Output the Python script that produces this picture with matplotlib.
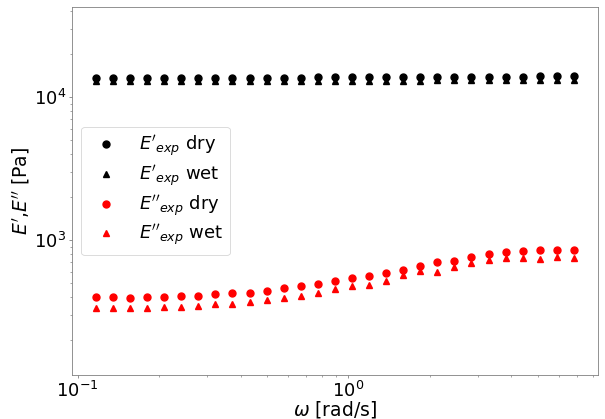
import matplotlib
matplotlib.use("Agg")
import matplotlib.pyplot as plt

# angular frequency [rad/s]
omega = [0.1168, 0.1351, 0.1562, 0.1806, 0.2089, 0.2415, 0.2792, 0.3228, 0.3731, 0.4315,
         0.4989, 0.5768, 0.6669, 0.7711, 0.8916, 1.031, 1.192, 1.378, 1.593, 1.842,
         2.130, 2.463, 2.848, 3.293, 3.807, 4.402, 5.089, 5.885, 6.804]

# storage modulus E' [Pa]
E1_dry = [13700, 13700, 13680, 13700, 13690, 13700, 13700, 13680, 13700, 13700,
          13710, 13700, 13700, 13720, 13720, 13750, 13750, 13760, 13780, 13790,
          13800, 13820, 13830, 13850, 13880, 13920, 13960, 14000, 14050]
E1_wet = [13000, 13000, 12990, 13000, 13000, 13000, 13000, 12990, 13000, 13000,
          13010, 13000, 13000, 13010, 13020, 13030, 13040, 13050, 13060, 13070,
          13080, 13090, 13100, 13110, 13130, 13150, 13170, 13190, 13220]

# loss modulus E'' [Pa]
E2_dry = [399, 399, 397, 399, 399, 406, 410, 419, 428, 428,
          444, 461, 479, 492, 514, 542, 557, 588, 617, 658,
          705, 709, 760, 806, 824, 833, 851, 851, 851]
E2_wet = [338, 338, 336, 338, 342, 342, 349, 355, 360, 368,
          382, 397, 408, 430, 456, 479, 487, 514, 569, 613,
          603, 647, 690, 721, 748, 752, 740, 768, 748]

fig = plt.figure(figsize=(6.05, 4.19), dpi=100)
ax = fig.add_axes([0.119, 0.105, 0.869, 0.878])

ax.plot(omega, E1_dry, 'o', color='black', ms=5, label=r"$E'_{exp}$ dry")
ax.plot(omega, E1_wet, '^', color='black', ms=5, label=r"$E'_{exp}$ wet")
ax.plot(omega, E2_dry, 'o', color='red', ms=5, label=r"$E''_{exp}$ dry")
ax.plot(omega, E2_wet, '^', color='red', ms=5, label=r"$E''_{exp}$ wet")

ax.set_xscale('log')
ax.set_yscale('log')
ax.set_ylim(114, 42600)

ax.set_xlabel(r"$\omega$ [rad/s]", fontsize=13.5)
ax.set_ylabel(r"$E'$,$E''$ [Pa]", fontsize=13.5)
ax.xaxis.set_label_coords(0.5, -0.066)
ax.yaxis.set_label_coords(-0.076, 0.5)
ax.tick_params(which='major', length=2.5, width=0.6, pad=1.5)
ax.tick_params(which='minor', length=1.5, width=0.5)
ax.tick_params(which='both', labelsize=13, colors='0.5', labelcolor='black')
for sp in ax.spines.values():
    sp.set_color('0.5')
    sp.set_linewidth(0.6)

leg = ax.legend(loc='center left', fontsize=13, labelspacing=0.25)
leg.get_frame().set_linewidth(0.6)

fig.savefig("out.png", dpi=100)
